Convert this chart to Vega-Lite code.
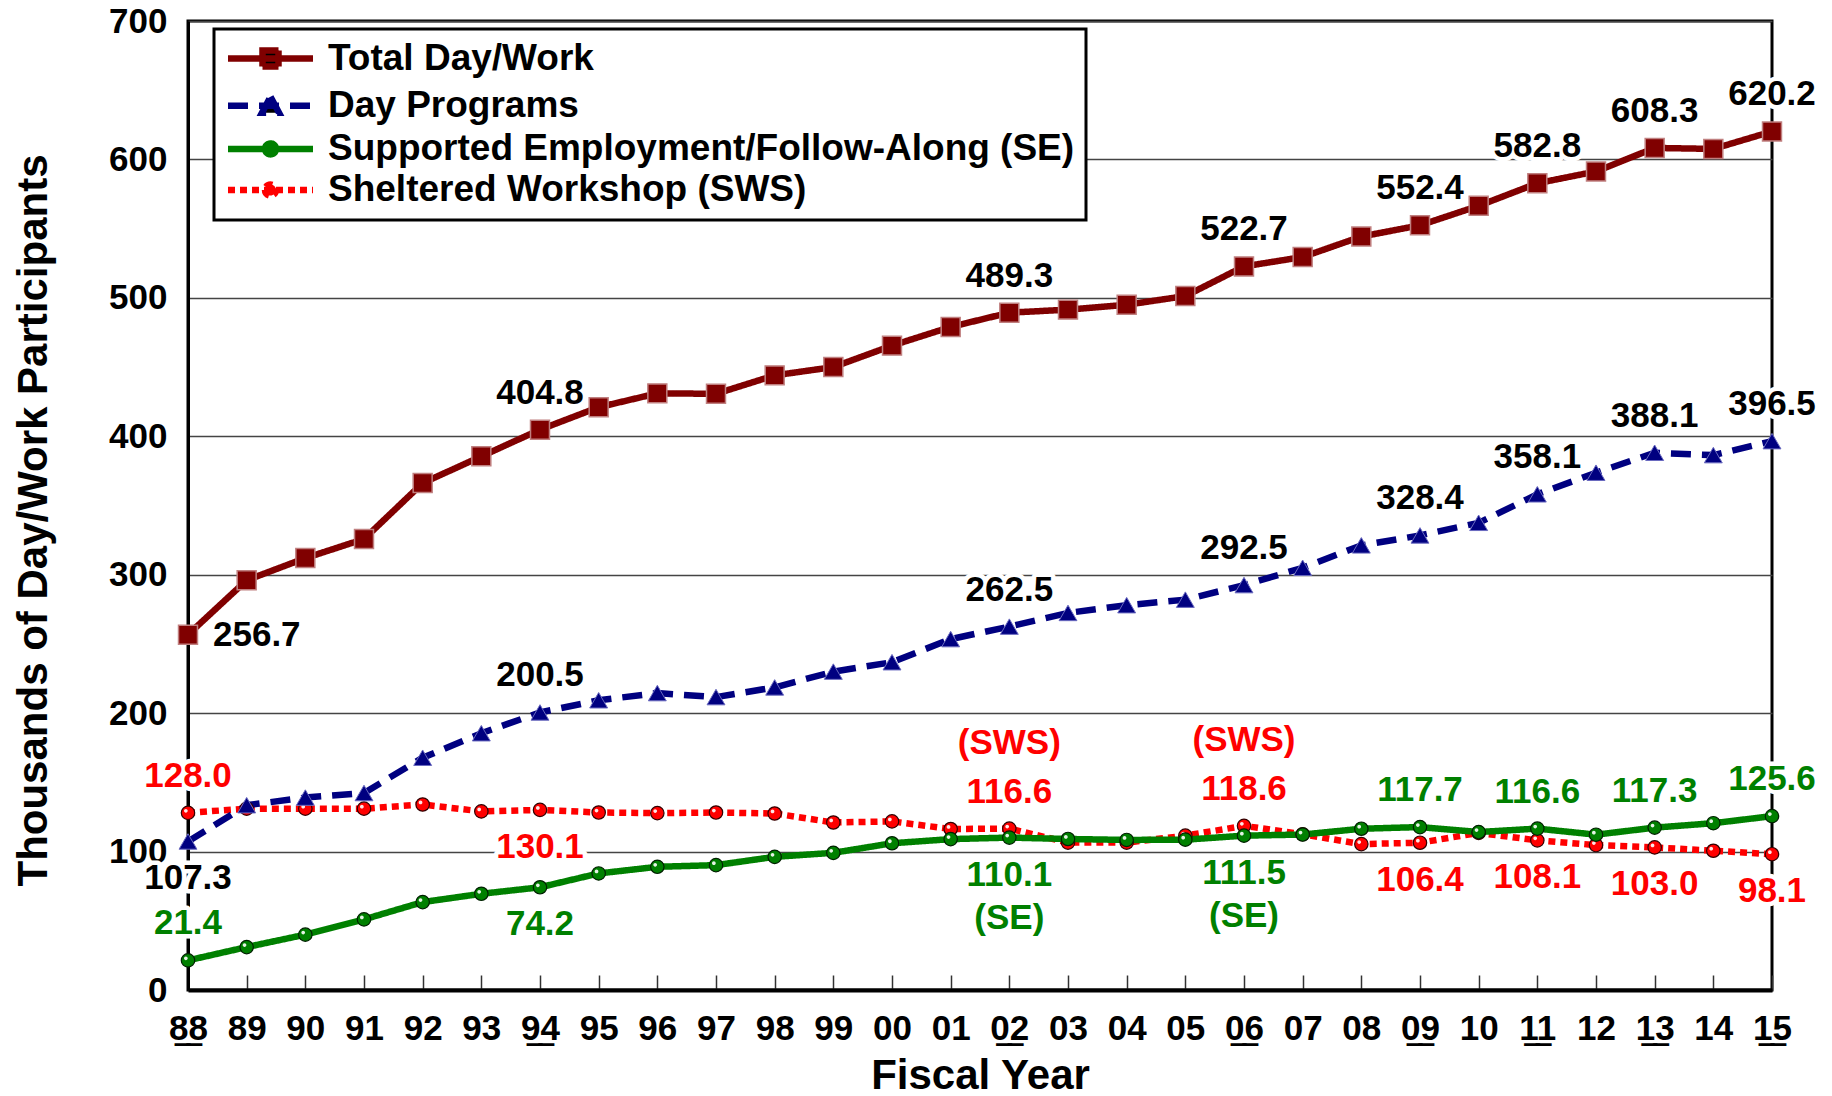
{
  "$schema": "https://vega.github.io/schema/vega-lite/v6.json",
  "width": 1584,
  "height": 969,
  "autosize": {"type": "none"},
  "padding": {"left": 188, "top": 21, "right": 60, "bottom": 106},
  "background": "white",
  "config": {
    "font": "Liberation Sans",
    "view": {"stroke": "black", "strokeWidth": 3}
  },
  "datasets": {
    "series": [
      {"series": "Sheltered Workshop (SWS)", "year": 1988, "value": 128.0},
      {"series": "Sheltered Workshop (SWS)", "year": 1989, "value": 131.0},
      {"series": "Sheltered Workshop (SWS)", "year": 1990, "value": 131.0},
      {"series": "Sheltered Workshop (SWS)", "year": 1991, "value": 131.0},
      {"series": "Sheltered Workshop (SWS)", "year": 1992, "value": 134.0},
      {"series": "Sheltered Workshop (SWS)", "year": 1993, "value": 129.0},
      {"series": "Sheltered Workshop (SWS)", "year": 1994, "value": 130.1},
      {"series": "Sheltered Workshop (SWS)", "year": 1995, "value": 128.2},
      {"series": "Sheltered Workshop (SWS)", "year": 1996, "value": 127.8},
      {"series": "Sheltered Workshop (SWS)", "year": 1997, "value": 128.2},
      {"series": "Sheltered Workshop (SWS)", "year": 1998, "value": 127.5},
      {"series": "Sheltered Workshop (SWS)", "year": 1999, "value": 121.0},
      {"series": "Sheltered Workshop (SWS)", "year": 2000, "value": 121.8},
      {"series": "Sheltered Workshop (SWS)", "year": 2001, "value": 116.3},
      {"series": "Sheltered Workshop (SWS)", "year": 2002, "value": 116.6},
      {"series": "Sheltered Workshop (SWS)", "year": 2003, "value": 106.5},
      {"series": "Sheltered Workshop (SWS)", "year": 2004, "value": 106.5},
      {"series": "Sheltered Workshop (SWS)", "year": 2005, "value": 111.5},
      {"series": "Sheltered Workshop (SWS)", "year": 2006, "value": 118.6},
      {"series": "Sheltered Workshop (SWS)", "year": 2007, "value": 112.5},
      {"series": "Sheltered Workshop (SWS)", "year": 2008, "value": 105.4},
      {"series": "Sheltered Workshop (SWS)", "year": 2009, "value": 106.4},
      {"series": "Sheltered Workshop (SWS)", "year": 2010, "value": 113.5},
      {"series": "Sheltered Workshop (SWS)", "year": 2011, "value": 108.1},
      {"series": "Sheltered Workshop (SWS)", "year": 2012, "value": 104.7},
      {"series": "Sheltered Workshop (SWS)", "year": 2013, "value": 103.0},
      {"series": "Sheltered Workshop (SWS)", "year": 2014, "value": 100.6},
      {"series": "Sheltered Workshop (SWS)", "year": 2015, "value": 98.1},
      {"series": "Supported Employment/Follow-Along (SE)", "year": 1988, "value": 21.4},
      {"series": "Supported Employment/Follow-Along (SE)", "year": 1989, "value": 31.0},
      {"series": "Supported Employment/Follow-Along (SE)", "year": 1990, "value": 40.0},
      {"series": "Supported Employment/Follow-Along (SE)", "year": 1991, "value": 51.0},
      {"series": "Supported Employment/Follow-Along (SE)", "year": 1992, "value": 63.5},
      {"series": "Supported Employment/Follow-Along (SE)", "year": 1993, "value": 69.5},
      {"series": "Supported Employment/Follow-Along (SE)", "year": 1994, "value": 74.2},
      {"series": "Supported Employment/Follow-Along (SE)", "year": 1995, "value": 84.2},
      {"series": "Supported Employment/Follow-Along (SE)", "year": 1996, "value": 89.0},
      {"series": "Supported Employment/Follow-Along (SE)", "year": 1997, "value": 90.2},
      {"series": "Supported Employment/Follow-Along (SE)", "year": 1998, "value": 96.2},
      {"series": "Supported Employment/Follow-Along (SE)", "year": 1999, "value": 99.1},
      {"series": "Supported Employment/Follow-Along (SE)", "year": 2000, "value": 106.0},
      {"series": "Supported Employment/Follow-Along (SE)", "year": 2001, "value": 109.0},
      {"series": "Supported Employment/Follow-Along (SE)", "year": 2002, "value": 110.1},
      {"series": "Supported Employment/Follow-Along (SE)", "year": 2003, "value": 109.1},
      {"series": "Supported Employment/Follow-Along (SE)", "year": 2004, "value": 108.4},
      {"series": "Supported Employment/Follow-Along (SE)", "year": 2005, "value": 108.6},
      {"series": "Supported Employment/Follow-Along (SE)", "year": 2006, "value": 111.5},
      {"series": "Supported Employment/Follow-Along (SE)", "year": 2007, "value": 112.3},
      {"series": "Supported Employment/Follow-Along (SE)", "year": 2008, "value": 116.5},
      {"series": "Supported Employment/Follow-Along (SE)", "year": 2009, "value": 117.7},
      {"series": "Supported Employment/Follow-Along (SE)", "year": 2010, "value": 114.1},
      {"series": "Supported Employment/Follow-Along (SE)", "year": 2011, "value": 116.6},
      {"series": "Supported Employment/Follow-Along (SE)", "year": 2012, "value": 112.2},
      {"series": "Supported Employment/Follow-Along (SE)", "year": 2013, "value": 117.3},
      {"series": "Supported Employment/Follow-Along (SE)", "year": 2014, "value": 120.5},
      {"series": "Supported Employment/Follow-Along (SE)", "year": 2015, "value": 125.6},
      {"series": "Day Programs", "year": 1988, "value": 107.3},
      {"series": "Day Programs", "year": 1989, "value": 133.5},
      {"series": "Day Programs", "year": 1990, "value": 139.0},
      {"series": "Day Programs", "year": 1991, "value": 142.3},
      {"series": "Day Programs", "year": 1992, "value": 167.8},
      {"series": "Day Programs", "year": 1993, "value": 185.5},
      {"series": "Day Programs", "year": 1994, "value": 200.5},
      {"series": "Day Programs", "year": 1995, "value": 209.3},
      {"series": "Day Programs", "year": 1996, "value": 214.5},
      {"series": "Day Programs", "year": 1997, "value": 211.6},
      {"series": "Day Programs", "year": 1998, "value": 218.6},
      {"series": "Day Programs", "year": 1999, "value": 230.0},
      {"series": "Day Programs", "year": 2000, "value": 236.8},
      {"series": "Day Programs", "year": 2001, "value": 253.5},
      {"series": "Day Programs", "year": 2002, "value": 262.5},
      {"series": "Day Programs", "year": 2003, "value": 272.4},
      {"series": "Day Programs", "year": 2004, "value": 278.0},
      {"series": "Day Programs", "year": 2005, "value": 282.0},
      {"series": "Day Programs", "year": 2006, "value": 292.5},
      {"series": "Day Programs", "year": 2007, "value": 305.0},
      {"series": "Day Programs", "year": 2008, "value": 321.2},
      {"series": "Day Programs", "year": 2009, "value": 328.4},
      {"series": "Day Programs", "year": 2010, "value": 337.5},
      {"series": "Day Programs", "year": 2011, "value": 358.1},
      {"series": "Day Programs", "year": 2012, "value": 373.7},
      {"series": "Day Programs", "year": 2013, "value": 388.1},
      {"series": "Day Programs", "year": 2014, "value": 386.4},
      {"series": "Day Programs", "year": 2015, "value": 396.5},
      {"series": "Total Day/Work", "year": 1988, "value": 256.7},
      {"series": "Total Day/Work", "year": 1989, "value": 296.0},
      {"series": "Total Day/Work", "year": 1990, "value": 312.0},
      {"series": "Total Day/Work", "year": 1991, "value": 325.8},
      {"series": "Total Day/Work", "year": 1992, "value": 366.2},
      {"series": "Total Day/Work", "year": 1993, "value": 385.5},
      {"series": "Total Day/Work", "year": 1994, "value": 404.8},
      {"series": "Total Day/Work", "year": 1995, "value": 421.0},
      {"series": "Total Day/Work", "year": 1996, "value": 431.0},
      {"series": "Total Day/Work", "year": 1997, "value": 430.7},
      {"series": "Total Day/Work", "year": 1998, "value": 444.0},
      {"series": "Total Day/Work", "year": 1999, "value": 450.0},
      {"series": "Total Day/Work", "year": 2000, "value": 465.5},
      {"series": "Total Day/Work", "year": 2001, "value": 479.0},
      {"series": "Total Day/Work", "year": 2002, "value": 489.3},
      {"series": "Total Day/Work", "year": 2003, "value": 491.5},
      {"series": "Total Day/Work", "year": 2004, "value": 495.0},
      {"series": "Total Day/Work", "year": 2005, "value": 501.3},
      {"series": "Total Day/Work", "year": 2006, "value": 522.7},
      {"series": "Total Day/Work", "year": 2007, "value": 529.5},
      {"series": "Total Day/Work", "year": 2008, "value": 544.3},
      {"series": "Total Day/Work", "year": 2009, "value": 552.4},
      {"series": "Total Day/Work", "year": 2010, "value": 566.5},
      {"series": "Total Day/Work", "year": 2011, "value": 582.8},
      {"series": "Total Day/Work", "year": 2012, "value": 591.3},
      {"series": "Total Day/Work", "year": 2013, "value": 608.3},
      {"series": "Total Day/Work", "year": 2014, "value": 607.6},
      {"series": "Total Day/Work", "year": 2015, "value": 620.2}
    ]
  },
  "encoding": {
    "x": {
      "field": "year",
      "type": "ordinal",
      "scale": {"type": "point", "padding": 0},
      "title": "Fiscal Year",
      "axis": {
        "labelAngle": 0,
        "labelFontSize": 35,
        "labelFontWeight": "bold",
        "labelColor": "black",
        "labelExpr": "indexof([1988,1994,2002,2006,2009,2011,2013,2015], datum.value) >= 0 ? [slice(datum.label, 2), '\u203e\u203e'] : slice(datum.label, 2)",
        "labelLineHeight": 31,
        "labelPadding": 36,
        "tickSize": -15,
        "tickColor": "#333333",
        "tickWidth": 1.5,
        "domainColor": "black",
        "domainWidth": 4,
        "grid": false,
        "titleFontSize": 42,
        "titleFontWeight": "bold",
        "titleColor": "black",
        "titleY": 85,
        "titleBaseline": "middle"
      }
    },
    "y": {
      "field": "value",
      "type": "quantitative",
      "scale": {"domain": [0, 700], "nice": false},
      "title": "Thousands of Day/Work Participants",
      "axis": {
        "values": [0, 100, 200, 300, 400, 500, 600, 700],
        "labelFontSize": 35,
        "labelFontWeight": "bold",
        "labelColor": "black",
        "labelPadding": 21,
        "ticks": false,
        "domainColor": "black",
        "domainWidth": 3,
        "grid": true,
        "gridColor": "#444444",
        "gridWidth": 1.5,
        "titleFontSize": 42,
        "titleFontWeight": "bold",
        "titleColor": "black",
        "titleX": -155,
        "titleY": 499,
        "titleAngle": -90,
        "titleAlign": "center",
        "titleBaseline": "middle"
      }
    }
  },
  "layer": [
    {
      "data": {"name": "series"},
      "mark": {"type": "line", "strokeJoin": "miter"},
      "encoding": {
        "color": {
          "field": "series",
          "type": "nominal",
          "scale": {
            "domain": ["Total Day/Work", "Day Programs", "Supported Employment/Follow-Along (SE)", "Sheltered Workshop (SWS)"],
            "range": ["#800000", "#000080", "#008000", "#FF0000"]
          },
          "legend": {
            "title": null,
            "orient": "none",
            "legendX": 26,
            "legendY": 8,
            "padding": 11,
            "strokeColor": "black",
            "fillColor": "white",
            "labelFont": "Liberation Sans",
            "labelFontSize": 37,
            "labelFontWeight": "bold",
            "labelColor": "black",
            "labelLimit": 1000,
            "symbolSize": 400,
            "symbolStrokeWidth": 5,
            "symbolOffset": 27,
            "labelOffset": 39,
            "rowPadding": 3.2,
            "encode": {
              "legend": {"update": {"strokeWidth": {"value": 3}}},
              "symbols": {
                "update": {
                  "shape": {"signal": "datum.value === 'Total Day/Work' ? 'M-4.25,0H4.25M-0.8,-0.8H0.8V0.8H-0.8Z' : datum.value === 'Day Programs' ? 'M-4.25,0H4.25M0,-0.9L0.85,0.7H-0.85Z' : 'M-4.25,0H4.25M-0.55,0A0.55,0.55 0 1,0 0.55,0A0.55,0.55 0 1,0 -0.55,0Z'"},
                  "strokeDash": {"signal": "datum.value === 'Day Programs' ? [20,11] : datum.value === 'Sheltered Workshop (SWS)' ? [7,5] : [1,0]"},
                  "fill": {"scale": "color", "field": "value"},
                  "stroke": {"scale": "color", "field": "value"},
                  "strokeWidth": {"value": 5},
                  "opacity": {"value": 1}
                }
              }
            }
          }
        },
        "strokeDash": {
          "field": "series",
          "type": "nominal",
          "scale": {
            "domain": ["Total Day/Work", "Day Programs", "Supported Employment/Follow-Along (SE)", "Sheltered Workshop (SWS)"],
            "range": [[1, 0], [20, 11], [1, 0], [7, 5]]
          },
          "legend": null
        },
        "strokeWidth": {
          "field": "series",
          "type": "nominal",
          "scale": {
            "domain": ["Total Day/Work", "Day Programs", "Supported Employment/Follow-Along (SE)", "Sheltered Workshop (SWS)"],
            "range": [6.5, 6.5, 7.5, 6]
          },
          "legend": null
        }
      }
    },
    {
      "data": {"name": "series"},
      "transform": [{"filter": "datum.series === 'Sheltered Workshop (SWS)'"}],
      "mark": {"type": "point", "shape": "circle", "filled": true, "size": 180, "fill": "#FF0000", "stroke": "#300000", "strokeWidth": 1.2, "opacity": 1}
    },
    {
      "data": {"name": "series"},
      "transform": [{"filter": "datum.series === 'Sheltered Workshop (SWS)'"}],
      "mark": {"type": "point", "shape": "M-0.6,-0.3A0.28,0.28 0 1,0 -0.04,-0.3A0.28,0.28 0 1,0 -0.6,-0.3Z", "filled": true, "size": 180, "fill": "white", "strokeWidth": 0, "opacity": 0.9}
    },
    {
      "data": {"name": "series"},
      "transform": [{"filter": "datum.series === 'Supported Employment/Follow-Along (SE)'"}],
      "mark": {"type": "point", "shape": "circle", "filled": true, "size": 180, "fill": "#008000", "stroke": "#002000", "strokeWidth": 1.2, "opacity": 1}
    },
    {
      "data": {"name": "series"},
      "transform": [{"filter": "datum.series === 'Supported Employment/Follow-Along (SE)'"}],
      "mark": {"type": "point", "shape": "M-0.6,-0.3A0.28,0.28 0 1,0 -0.04,-0.3A0.28,0.28 0 1,0 -0.6,-0.3Z", "filled": true, "size": 180, "fill": "white", "strokeWidth": 0, "opacity": 0.9}
    },
    {
      "data": {"name": "series"},
      "transform": [{"filter": "datum.series === 'Day Programs'"}],
      "mark": {"type": "point", "shape": "triangle-up", "filled": true, "size": 320, "fill": "#000080", "stroke": "#6a6ac0", "strokeWidth": 1, "opacity": 1}
    },
    {
      "data": {"name": "series"},
      "transform": [{"filter": "datum.series === 'Total Day/Work'"}],
      "mark": {"type": "point", "shape": "square", "filled": true, "size": 360, "fill": "#800000", "stroke": "#c08080", "strokeWidth": 1.5, "opacity": 1}
    },
    {
      "data": {"name": "series"},
      "transform": [
        {"filter": "indexof([1988,1994,2002,2006,2009,2011,2013,2015], datum.year) >= 0"},
        {"filter": "!((datum.series === 'Day Programs' && datum.year === 1988) || (datum.series === 'Supported Employment/Follow-Along (SE)' && indexof([1994,2002,2006], datum.year) >= 0) || (datum.series === 'Sheltered Workshop (SWS)' && indexof([1994,2009,2011,2013,2015], datum.year) >= 0) || (datum.series === 'Total Day/Work' && datum.year === 1988))"}
      ],
      "mark": {"type": "text", "fontSize": 35, "fontWeight": "bold", "baseline": "middle", "align": "center", "dy": -37, "fill": "white", "stroke": "white", "strokeWidth": 9, "strokeJoin": "round"},
      "encoding": {"text": {"field": "value", "type": "quantitative", "format": ".1f"}}
    },
    {
      "data": {"name": "series"},
      "transform": [
        {"filter": "(datum.series === 'Day Programs' && datum.year === 1988) || (datum.series === 'Supported Employment/Follow-Along (SE)' && indexof([1994,2002,2006], datum.year) >= 0) || (datum.series === 'Sheltered Workshop (SWS)' && indexof([1994,2009,2011,2013,2015], datum.year) >= 0)"}
      ],
      "mark": {"type": "text", "fontSize": 35, "fontWeight": "bold", "baseline": "middle", "align": "center", "dy": 37, "fill": "white", "stroke": "white", "strokeWidth": 9, "strokeJoin": "round"},
      "encoding": {"text": {"field": "value", "type": "quantitative", "format": ".1f"}}
    },
    {
      "data": {"name": "series"},
      "transform": [{"filter": "datum.series === 'Total Day/Work' && datum.year === 1988"}],
      "mark": {"type": "text", "fontSize": 35, "fontWeight": "bold", "baseline": "middle", "align": "left", "dx": 25, "fill": "white", "stroke": "white", "strokeWidth": 9, "strokeJoin": "round"},
      "encoding": {"text": {"field": "value", "type": "quantitative", "format": ".1f"}}
    },
    {
      "data": {"name": "series"},
      "transform": [{"filter": "datum.series === 'Sheltered Workshop (SWS)' && (datum.year === 2002 || datum.year === 2006)"}],
      "mark": {"type": "text", "text": "(SWS)", "fontSize": 35, "fontWeight": "bold", "baseline": "middle", "align": "center", "dy": -86, "fill": "white", "stroke": "white", "strokeWidth": 9, "strokeJoin": "round"}
    },
    {
      "data": {"name": "series"},
      "transform": [{"filter": "datum.series === 'Supported Employment/Follow-Along (SE)' && (datum.year === 2002 || datum.year === 2006)"}],
      "mark": {"type": "text", "text": "(SE)", "fontSize": 35, "fontWeight": "bold", "baseline": "middle", "align": "center", "dy": 80, "fill": "white", "stroke": "white", "strokeWidth": 9, "strokeJoin": "round"}
    },
    {
      "data": {"name": "series"},
      "transform": [
        {"filter": "indexof([1988,1994,2002,2006,2009,2011,2013,2015], datum.year) >= 0"},
        {"filter": "!((datum.series === 'Day Programs' && datum.year === 1988) || (datum.series === 'Supported Employment/Follow-Along (SE)' && indexof([1994,2002,2006], datum.year) >= 0) || (datum.series === 'Sheltered Workshop (SWS)' && indexof([1994,2009,2011,2013,2015], datum.year) >= 0) || (datum.series === 'Total Day/Work' && datum.year === 1988))"}
      ],
      "mark": {"type": "text", "fontSize": 35, "fontWeight": "bold", "baseline": "middle", "align": "center", "dy": -37},
      "encoding": {
        "text": {"field": "value", "type": "quantitative", "format": ".1f"},
        "fill": {"field": "series", "type": "nominal", "scale": {"domain": ["Total Day/Work", "Day Programs", "Supported Employment/Follow-Along (SE)", "Sheltered Workshop (SWS)"], "range": ["#000000", "#000000", "#008000", "#FF0000"]}, "legend": null}
      }
    },
    {
      "data": {"name": "series"},
      "transform": [
        {"filter": "(datum.series === 'Day Programs' && datum.year === 1988) || (datum.series === 'Supported Employment/Follow-Along (SE)' && indexof([1994,2002,2006], datum.year) >= 0) || (datum.series === 'Sheltered Workshop (SWS)' && indexof([1994,2009,2011,2013,2015], datum.year) >= 0)"}
      ],
      "mark": {"type": "text", "fontSize": 35, "fontWeight": "bold", "baseline": "middle", "align": "center", "dy": 37},
      "encoding": {
        "text": {"field": "value", "type": "quantitative", "format": ".1f"},
        "fill": {"field": "series", "type": "nominal", "scale": {"domain": ["Total Day/Work", "Day Programs", "Supported Employment/Follow-Along (SE)", "Sheltered Workshop (SWS)"], "range": ["#000000", "#000000", "#008000", "#FF0000"]}, "legend": null}
      }
    },
    {
      "data": {"name": "series"},
      "transform": [{"filter": "datum.series === 'Total Day/Work' && datum.year === 1988"}],
      "mark": {"type": "text", "fontSize": 35, "fontWeight": "bold", "baseline": "middle", "align": "left", "dx": 25, "fill": "black"},
      "encoding": {"text": {"field": "value", "type": "quantitative", "format": ".1f"}}
    },
    {
      "data": {"name": "series"},
      "transform": [{"filter": "datum.series === 'Sheltered Workshop (SWS)' && (datum.year === 2002 || datum.year === 2006)"}],
      "mark": {"type": "text", "text": "(SWS)", "fontSize": 35, "fontWeight": "bold", "baseline": "middle", "align": "center", "dy": -86, "fill": "#FF0000"}
    },
    {
      "data": {"name": "series"},
      "transform": [{"filter": "datum.series === 'Supported Employment/Follow-Along (SE)' && (datum.year === 2002 || datum.year === 2006)"}],
      "mark": {"type": "text", "text": "(SE)", "fontSize": 35, "fontWeight": "bold", "baseline": "middle", "align": "center", "dy": 80, "fill": "#008000"}
    }
  ]
}
